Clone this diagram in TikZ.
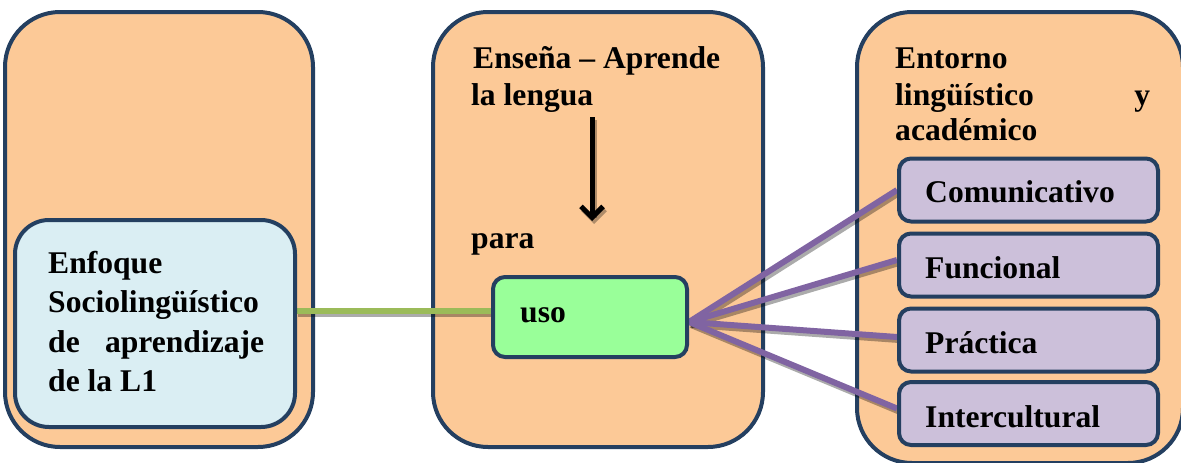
\documentclass[tikz,border=0pt]{standalone}
\usepackage{fontspec}
\setmainfont{Liberation Serif}
\usetikzlibrary{arrows.meta}
\definecolor{peach}{HTML}{FCC997}
\definecolor{navy}{HTML}{243F60}
\definecolor{lblue}{HTML}{DAEEF3}
\definecolor{lgreen}{HTML}{99FF99}
\definecolor{lpurple}{HTML}{CCC0DA}
\definecolor{purp}{HTML}{8064A2}
\definecolor{olivegreen}{HTML}{9BBB59}
\tikzset{
  bigbox/.style={draw=navy, line width=4pt, fill=peach, rounded corners=55pt, inner sep=0pt},
  bluebox/.style={draw=navy, line width=4pt, fill=lblue, rounded corners=34pt, inner sep=0pt},
  usobox/.style={draw=navy, line width=4pt, fill=lgreen, rounded corners=12pt, inner sep=0pt},
  catbox/.style={draw=navy, line width=4pt, fill=lpurple, rounded corners=12pt, inner sep=0pt,
                 minimum width=259pt, minimum height=63pt},
  lbl/.style={anchor=base west, inner sep=0pt, font=\fontsize{31.6}{38}\selectfont\bfseries},
  purpline/.style={draw=purp, line width=6pt},
  greenline/.style={draw=olivegreen, line width=6pt},
  shadowline/.style={draw=black, opacity=0.33},
  arrowline/.style={draw=black, line width=5pt, -{Straight Barb[length=11pt,width=22pt]}}
}
\begin{document}
\begin{tikzpicture}[x=1pt,y=-1pt]
\useasboundingbox (0,0) rectangle (1181,463);
% big containers
\node[bigbox, minimum width=308pt, minimum height=435pt] (left) at (159,229.5) {};
\node[bigbox, minimum width=330pt, minimum height=435pt] (mid) at (598,229.5) {};
\node[bigbox, minimum width=326pt, minimum height=451pt] (right) at (1020,237.5) {};

% inner node positions (boxes drawn after lines)
\path (155,323.5) coordinate (bluec) (590,317) coordinate (usoc);
\path (1028.5,190) coordinate (c1) (1028.5,265) coordinate (c2)
      (1028.5,340) coordinate (c3) (1028.5,413.5) coordinate (c4);
\node[bluebox, minimum width=280pt, minimum height=207pt, draw=none, fill=none] (blue) at (bluec) {};
\node[usobox, minimum width=194pt, minimum height=80pt, draw=none, fill=none] (uso) at (usoc) {};
\node[catbox, draw=none, fill=none] (k1) at (c1) {};
\node[catbox, draw=none, fill=none] (k2) at (c2) {};
\node[catbox, draw=none, fill=none] (k3) at (c3) {};
\node[catbox, draw=none, fill=none] (k4) at (c4) {};

% connectors with shadows
\coordinate (hub) at ([yshift=-5pt]uso.east);
\foreach \k/\dy in {k1/0, k2/5, k3/3, k4/5} {
  \draw[shadowline, line width=6pt] ([xshift=2pt,yshift=-3pt]hub) -- ([xshift=2pt,yshift=-3pt+\dy]\k.west);
  \draw[purpline] (hub) -- ([yshift=\dy]\k.west);
}
\draw[shadowline, line width=6pt] ([xshift=1pt,yshift=3pt]blue.east |- uso.west) -- ([yshift=3pt]uso.west);
\draw[greenline] ([yshift=6pt]blue.east |- uso.west) -- ([yshift=6pt]uso.west);

% boxes on top
\node[bluebox, minimum width=280pt, minimum height=207pt] at (bluec) {};
\node[usobox, minimum width=194pt, minimum height=80pt] at (usoc) {};
\node[catbox] at (c1) {};
\node[catbox] at (c2) {};
\node[catbox] at (c3) {};
\node[catbox] at (c4) {};

% arrow
\coordinate (a1) at (592,117);
\coordinate (a2) at (592,221);
\draw[arrowline, draw=black, opacity=0.3] ([xshift=2pt,yshift=-3pt]a1) -- ([xshift=2pt,yshift=-3pt]a2);
\draw[arrowline] (a1) -- (a2);

% labels
\node[lbl] (e1) at (48,273) {Enfoque};
\node[lbl] (e2) at (48,312) {Sociolingüístico};
\node[lbl] (e3) at (48,352) {\hbox to 216pt{de\hfil aprendizaje}};
\node[lbl] (e4) at (48,391) {de la L1};

\node[lbl] (m1) at (473,68) {Enseña – Aprende};
\node[lbl] (m2) at (471,105) {la lengua};
\node[lbl] (m3) at (471,248) {para};
\node[lbl] (m4) at (520,322) {uso};

\node[lbl] (r1) at (895,68) {Entorno};
\node[lbl] (r2) at (895,105) {\hbox to 255pt{lingüístico\hfil y}};
\node[lbl] (r3) at (895,140) {académico};

\node[lbl] (l1) at (925,202) {Comunicativo};
\node[lbl] (l2) at (925,278) {Funcional};
\node[lbl] (l3) at (925,353) {Práctica};
\node[lbl] (l4) at (925,427) {Intercultural};
\end{tikzpicture}
\end{document}
